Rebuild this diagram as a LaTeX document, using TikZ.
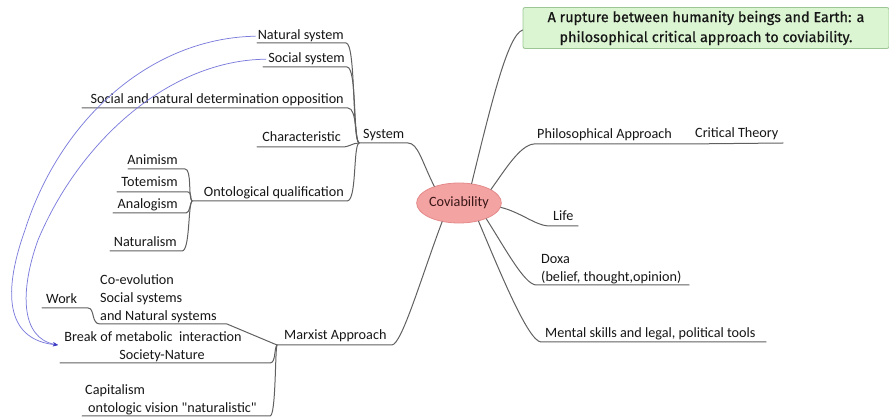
\documentclass[tikz,border=0pt]{standalone}
\usepackage{fontspec}
\setmainfont{Carlito}[Ligatures=TeXOff]
\newfontfamily\titlefont{Fira Sans}[FakeBold=0.5]
\usetikzlibrary{shapes.geometric,arrows.meta}

\definecolor{linegray}{HTML}{606060}
\definecolor{textc}{HTML}{161616}
\definecolor{covfill}{HTML}{F4A3A3}
\definecolor{covdraw}{HTML}{E48A8A}
\definecolor{covtext}{HTML}{3A1616}
\definecolor{titlefill}{HTML}{DBF4D2}
\definecolor{titledraw}{HTML}{9CC795}
\definecolor{linkblue}{HTML}{7C7CDC}
\definecolor{tipblue}{HTML}{3A3AC4}

\newcommand{\lblfont}{\fontsize{14.2}{18}\selectfont}

\tikzset{
  branch/.style={draw=linegray, line width=1pt, line cap=round, line join=round},
  lbl/.style={font=\lblfont, text=textc, inner sep=0pt},
  lblL/.style={lbl, anchor=base west},
  lblR/.style={lbl, anchor=base east},
  multi/.style={lbl, align=left, anchor=south west},
  link/.style={draw=linkblue, line width=0.75pt, -{Stealth[length=5pt,width=4pt,color=tipblue]}},
}

\begin{document}
\begin{tikzpicture}[x=1pt,y=-1pt]
\useasboundingbox (0,0) rectangle (889,419);

% central topic
\node[ellipse, draw=covdraw, fill=covfill, line width=0.8pt,
      minimum width=74pt, minimum height=40pt, inner sep=0pt,
      font=\lblfont, text=covtext] (cov) at (459,203) {Coviability};

% title box
\node[draw=titledraw, fill=titlefill, line width=0.8pt, rounded corners=2pt,
      minimum width=366pt, minimum height=41pt, align=center,
      font=\titlefont\fontsize{14.4}{20}\selectfont, text=textc] (title) at (706,28)
      {A rupture between humanity beings and Earth: a\\philosophical critical approach to coviability.};

% ---------- right side labels ----------
\node[lblL] (phil) at (537,139) {Philosophical Approach};
\node[lblL] (crit) at (695,138) {Critical Theory};
\node[lblL] (life) at (553,221) {Life};
\node[multi] (doxa) at (541,284) {Doxa\\(belief, thought,opinion)};
\node[lblL] (ment) at (545,338) {Mental skills and legal, political tools};

% ---------- System branch ----------
\node[lblL] (sys) at (363,139) {System};
\node[lblR] (ns) at (344,40) {Natural system};
\node[lblR] (ss) at (345,63) {Social system};
\node[lblR] (snd) at (344,104) {Social and natural determination opposition};
\node[lblR] (char) at (341,142) {Characteristic};
\node[lblR] (onto) at (344,197) {Ontological qualification};
\node[lblR] (anim) at (178,165) {Animism};
\node[lblR] (tote) at (178,187) {Totemism};
\node[lblR] (anal) at (178,209) {Analogism};
\node[lblR] (natu) at (177,247) {Naturalism};

% ---------- Marxist branch ----------
\node[lblL] (marx) at (284,340) {Marxist Approach};
\node[lblL] (work) at (46,304) {Work};
\node[multi] (coev) at (100,323) {Co-evolution\\Social systems\\and Natural systems};
\node[lbl, align=center, anchor=south] (brk) at (153,362) {Break of metabolic\ \ interaction\\\hspace*{18pt}Society-Nature};
\node[multi] (capi) at (85,415) {Capitalism\\\hspace*{3pt}ontologic vision "naturalistic"};

% junction and end points of the underlines
\coordinate (jsys) at (359,143);
\coordinate (jont) at (192,201);
\coordinate (jmar) at (277,345);
\coordinate (brkin) at (58,345);

% ---------- connectors from the central topic ----------
\draw[branch] (cov.57) .. controls (492,100) and (508,35) .. (title.west |- 0,30);
\draw[branch] (cov.23) .. controls (505,170) and (520,145) .. (534,144) -- (685,144) -- (783,143);
\draw[branch] (cov.-6) .. controls (520,212) and (535,225) .. (548,226) -- (578,226);
\draw[branch] (cov.-30) .. controls (505,248) and (524,284) .. (536,285) -- (689,285);
\draw[branch] (cov.-43) .. controls (500,272) and (528,341) .. (541,342) -- (766,342);
\draw[branch] (cov.-132) .. controls (422,275) and (402,344) .. (392,345) -- (jmar);
\draw[branch] (cov.146) .. controls (422,162) and (418,143) .. (408,143) -- (jsys);

% ---------- System sub-branches ----------
\draw[branch] (257,43) -- (346,43) .. controls (356,43) and (352,140) .. (jsys);
\draw[branch] (263,67) -- (347,67) .. controls (357,67) and (353,140) .. (jsys);
\draw[branch] (82,108) -- (348,108) .. controls (357,108) and (355,140) .. (jsys);
\draw[branch] (257,147) -- (342,147) .. controls (350,147) and (352,143) .. (jsys);
\draw[branch] (jont) -- (347,201) .. controls (357,201) and (353,146) .. (jsys);

\draw[branch] (128,169) -- (185,169) .. controls (192,169) and (188,198) .. (jont);
\draw[branch] (117,192) -- (188,192) .. controls (192,192) and (190,200) .. (jont);
\draw[branch] (113,213) -- (186,213) .. controls (190,213) and (190,203) .. (jont);
\draw[branch] (110,251) -- (182,251) .. controls (190,251) and (188,205) .. (jont);

% ---------- Marxist sub-branches ----------
\draw[branch] (42,308) -- (88,308) .. controls (95,308) and (91,324) .. (100,324) -- (227,324) -- (jmar);
\draw[branch] (60,363) -- (270,363) .. controls (276,363) and (274,348) .. (jmar);
\draw[branch] (82,416) -- (270,416) .. controls (276,416) and (275,350) .. (jmar);

% ---------- cross links ----------
\draw[link] ([xshift=-2pt]ns.west) .. controls (150,38) and (60,120) .. (25,230)
            .. controls (0,300) and (10,340) .. (brkin);
\draw[link] ([xshift=-2pt]ss.west) .. controls (170,60) and (80,140) .. (38,240)
            .. controls (20,290) and (20,338) .. (brkin);
\end{tikzpicture}
\end{document}
